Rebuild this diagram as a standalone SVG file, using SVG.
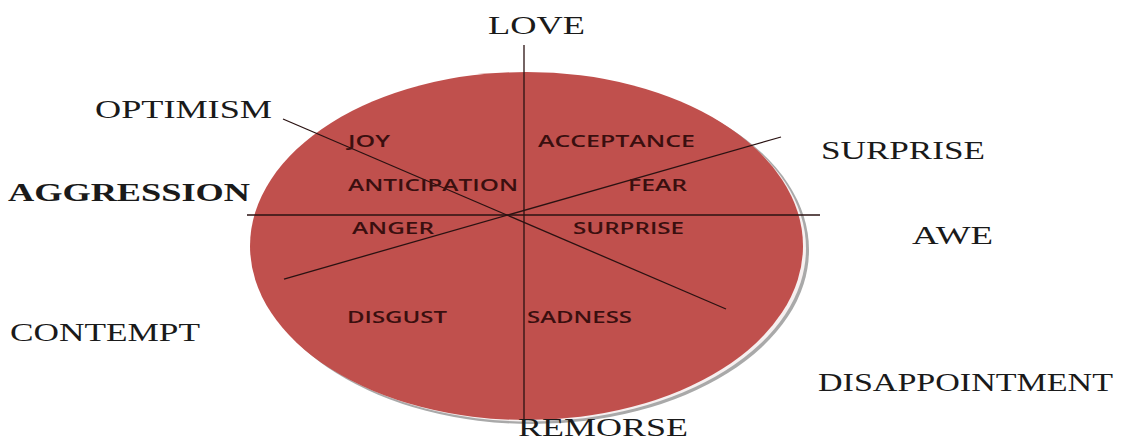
<svg xmlns="http://www.w3.org/2000/svg" width="1130" height="441" viewBox="0 0 1130 441">
<style>
.outer{font-family:"Liberation Serif","Times New Roman",serif;font-size:25px;fill:#1a1a1a}
.inner{font-family:"Open Sans","Liberation Sans",sans-serif;font-size:16px;fill:#3a0f0f;font-weight:600}
.ax{stroke:#2a1212;stroke-width:1.3;fill:none}
</style>
<rect width="1130" height="441" fill="#ffffff"/>
<g id="wheel">
<ellipse cx="532" cy="250" rx="277" ry="174" fill="#a9a9a9"/>
<ellipse cx="530" cy="248.5" rx="276" ry="173" fill="#f6f0f0"/>
<ellipse cx="526.5" cy="246" rx="276.5" ry="174" fill="#c0504d"/>
</g>
<g id="connectors">
<line class="ax" x1="524" y1="45" x2="524" y2="424"/>
<line class="ax" x1="247" y1="215" x2="820" y2="215"/>
<line class="ax" x1="283" y1="119" x2="726" y2="309"/>
<line class="ax" x1="781" y1="137" x2="284" y2="279"/>
</g>
<g id="inner-labels">
<text class="inner" x="348" y="147" textLength="42" lengthAdjust="spacingAndGlyphs">JOY</text>
<text class="inner" x="538" y="147" textLength="157" lengthAdjust="spacingAndGlyphs">ACCEPTANCE</text>
<text class="inner" x="348" y="191" textLength="170" lengthAdjust="spacingAndGlyphs">ANTICIPATION</text>
<text class="inner" x="628" y="191" textLength="59" lengthAdjust="spacingAndGlyphs">FEAR</text>
<text class="inner" x="352" y="234" textLength="82" lengthAdjust="spacingAndGlyphs">ANGER</text>
<text class="inner" x="573" y="234" textLength="111" lengthAdjust="spacingAndGlyphs">SURPRISE</text>
<text class="inner" x="347" y="323" textLength="100" lengthAdjust="spacingAndGlyphs">DISGUST</text>
<text class="inner" x="527" y="323" textLength="105" lengthAdjust="spacingAndGlyphs">SADNESS</text>
</g>
<g id="outer-labels">
<text class="outer" x="488" y="34" textLength="97" lengthAdjust="spacingAndGlyphs">LOVE</text>
<text class="outer" x="95" y="118" textLength="177" lengthAdjust="spacingAndGlyphs">OPTIMISM</text>
<text class="outer" x="8" y="201" font-weight="bold" textLength="242" lengthAdjust="spacingAndGlyphs">AGGRESSION</text>
<text class="outer" x="821" y="159" textLength="164" lengthAdjust="spacingAndGlyphs">SURPRISE</text>
<text class="outer" x="912" y="244" textLength="81" lengthAdjust="spacingAndGlyphs">AWE</text>
<text class="outer" x="10" y="341" textLength="190" lengthAdjust="spacingAndGlyphs">CONTEMPT</text>
<text class="outer" x="818" y="391" textLength="295" lengthAdjust="spacingAndGlyphs">DISAPPOINTMENT</text>
<text class="outer" x="518" y="436" textLength="170" lengthAdjust="spacingAndGlyphs">REMORSE</text>
</g>
</svg>
